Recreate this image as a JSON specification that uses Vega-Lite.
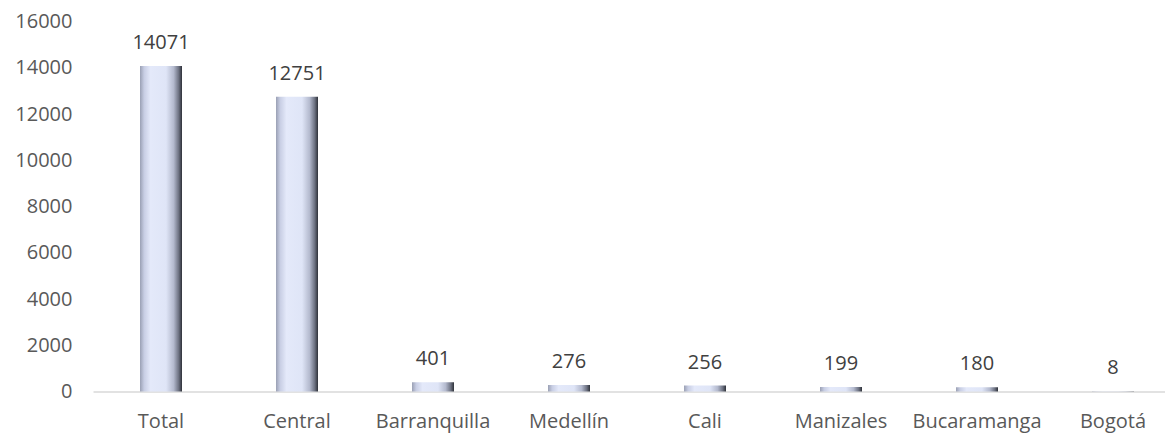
{
  "$schema": "https://vega.github.io/schema/vega-lite/v6.json",
  "autosize": {"type": "none"},
  "padding": {"left": 93, "top": 21.5, "right": 0, "bottom": 42.5},
  "width": 1072,
  "height": 370,
  "background": "white",
  "config": {"view": {"stroke": null}, "font": "Open Sans"},
  "data": {"values": [
    {"ciudad": "Total", "valor": 14071},
    {"ciudad": "Central", "valor": 12751},
    {"ciudad": "Barranquilla", "valor": 401},
    {"ciudad": "Medellín", "valor": 276},
    {"ciudad": "Cali", "valor": 256},
    {"ciudad": "Manizales", "valor": 199},
    {"ciudad": "Bucaramanga", "valor": 180},
    {"ciudad": "Bogotá", "valor": 8}
  ]},
  "encoding": {
    "x": {"field": "ciudad", "type": "nominal", "sort": null,
      "scale": {"range": [0, 1088], "paddingInner": 0, "paddingOuter": 0},
      "axis": {"title": null, "labelAngle": 0, "ticks": false, "domainColor": "#d9d9d9", "domainWidth": 1.5,
        "labelFontSize": 20, "labelColor": "#595959", "labelPadding": 20, "labelFont": "Open Sans"}},
    "y": {"field": "valor", "type": "quantitative",
      "scale": {"domain": [0, 16000], "nice": false},
      "axis": {"title": null, "values": [0, 2000, 4000, 6000, 8000, 10000, 12000, 14000, 16000], "format": "d", "grid": false, "domain": false, "ticks": false,
        "labelFontSize": 20, "labelColor": "#595959", "labelPadding": 21, "labelFont": "Open Sans"}}
  },
  "layer": [
    {"mark": {"type": "bar", "size": 42,
      "fill": {"gradient": "linear", "x1": 0, "x2": 1, "y1": 0, "y2": 0,
        "stops": [
          {"offset": 0, "color": "#9aa0b4"},
          {"offset": 0.1, "color": "#c8cee4"},
          {"offset": 0.25, "color": "#e4e9fa"},
          {"offset": 0.62, "color": "#dfe5f7"},
          {"offset": 0.8, "color": "#b4bace"},
          {"offset": 0.92, "color": "#6e7383"},
          {"offset": 1, "color": "#2e3139"}
        ]}}},
    {"mark": {"type": "text", "baseline": "alphabetic", "dy": -17, "fontSize": 20, "color": "#404040", "font": "Open Sans"},
      "encoding": {"text": {"field": "valor", "type": "quantitative", "format": "d"}}}
  ]
}
